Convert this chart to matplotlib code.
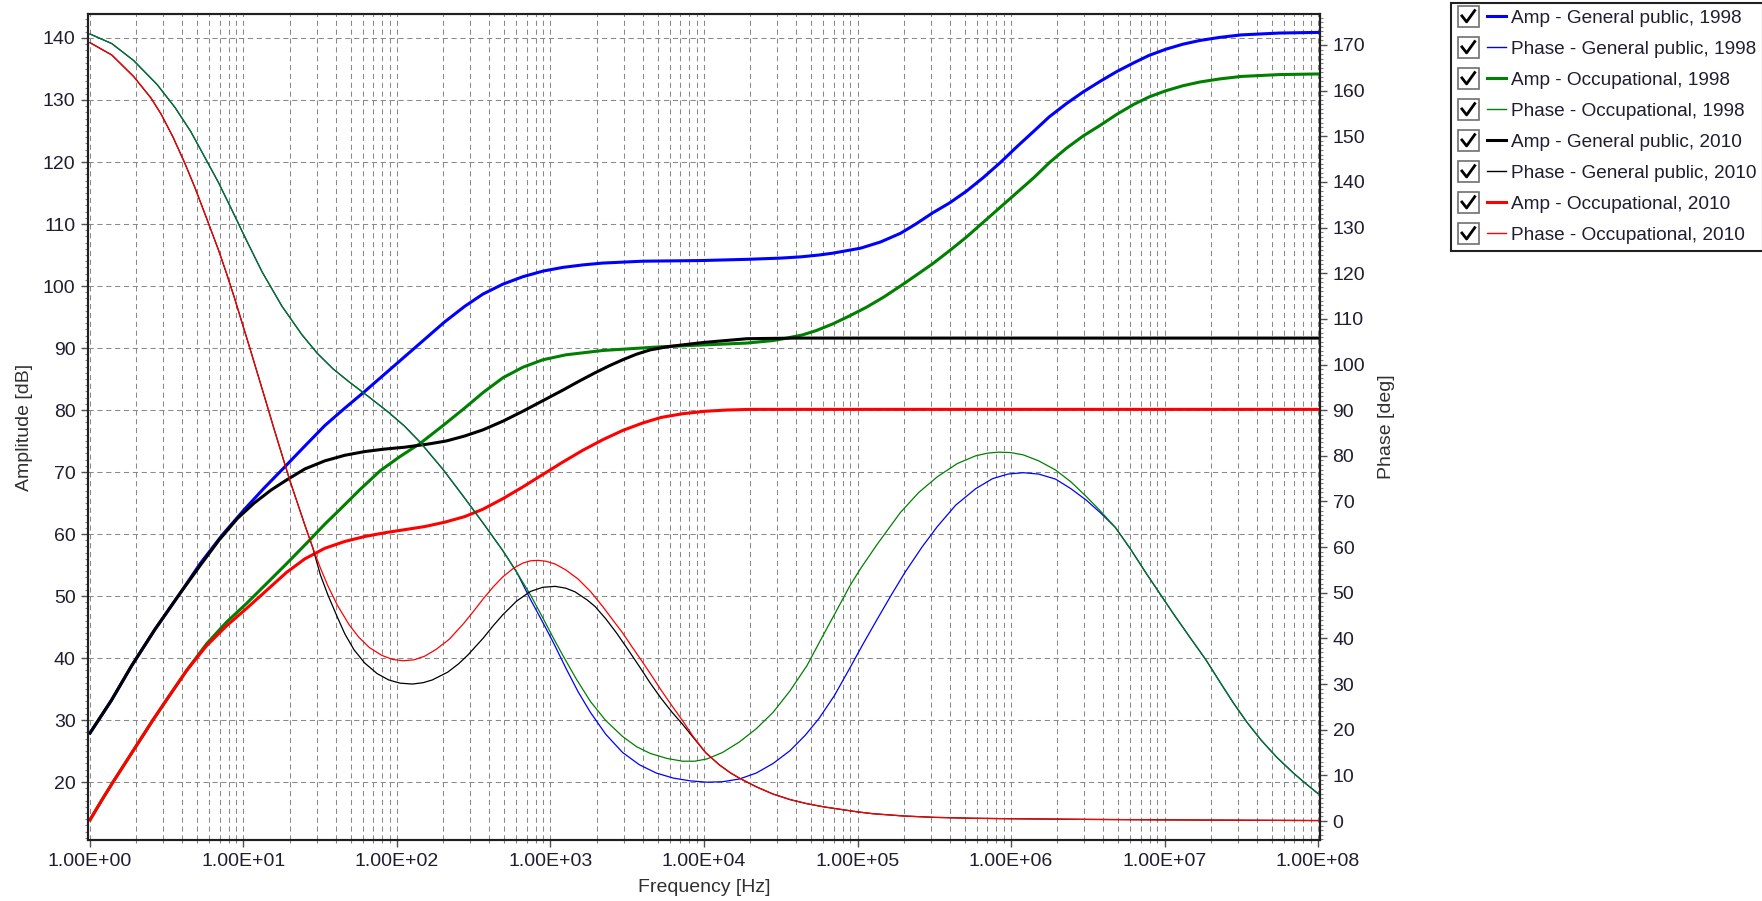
import numpy as np
import matplotlib
matplotlib.use('Agg')
import matplotlib.pyplot as plt
from matplotlib.legend_handler import HandlerBase
from matplotlib.lines import Line2D
from matplotlib.patches import Rectangle
from matplotlib.ticker import FixedLocator, LogLocator, NullFormatter, MultipleLocator

plt.rcParams['font.family'] = ['Liberation Sans', 'DejaVu Sans']

# ---------------- data (log10 of frequency in Hz, values) ----------------
amp_gp1998_lf = [0, 0.14, 0.27, 0.42, 0.58, 0.72, 0.86, 1.0, 1.13, 1.26, 1.4, 1.53, 1.66, 1.79, 1.92,
                 2.05, 2.18, 2.31, 2.44, 2.56, 2.69, 2.82, 2.95, 3.08, 3.21, 3.34, 3.6, 3.97, 4.28,
                 4.5, 4.63, 4.75, 4.84, 4.93, 5.02, 5.15, 5.28, 5.38, 5.49, 5.6, 5.71, 5.82, 5.93,
                 6.04, 6.15, 6.25, 6.36, 6.47, 6.58, 6.69, 6.80, 6.9, 7.01, 7.12, 7.23, 7.36, 7.5,
                 7.75, 8.0]
amp_gp1998 = [27.9, 33.2, 38.7, 44.5, 50.2, 55.3, 59.8, 63.8, 67.3, 70.6, 74.2, 77.5, 80.3, 83.0, 85.8,
              88.6, 91.4, 94.2, 96.7, 98.7, 100.3, 101.5, 102.4, 103.0, 103.4, 103.7, 104.0, 104.1, 104.3,
              104.5, 104.7, 105.0, 105.3, 105.7, 106.1, 107.1, 108.5, 110.0, 111.8, 113.4, 115.3, 117.5, 119.9,
              122.5, 125.0, 127.3, 129.4, 131.3, 133.0, 134.6, 136.0, 137.2, 138.2, 139.0, 139.6, 140.1, 140.5,
              140.8, 140.9]

phase_gp1998_lf = [0, 0.142, 0.284, 0.438, 0.554, 0.657, 0.735, 0.838, 0.915, 1.018, 1.121, 1.25, 1.379,
                   1.482, 1.585, 1.688, 1.817, 1.946, 2.049, 2.15, 2.30, 2.435, 2.56, 2.69, 2.78, 2.87,
                   2.95, 3.02, 3.1, 3.18, 3.26, 3.36, 3.47, 3.58, 3.69, 3.8, 3.91, 4.02, 4.12, 4.23,
                   4.34, 4.45, 4.56, 4.66, 4.75, 4.85, 4.95, 5.04, 5.13, 5.22, 5.31, 5.42, 5.52, 5.64,
                   5.77, 5.88, 5.98, 6.08, 6.18, 6.29, 6.39, 6.49, 6.58, 6.68, 6.78, 6.88, 6.97, 7.06,
                   7.16, 7.27, 7.36, 7.45, 7.54, 7.63, 7.73, 7.84, 7.92, 8.0]
phase_gp1998 = [172.4, 170.3, 166.6, 161.3, 156.3, 151.0, 146.2, 139.8, 134.5, 127.3, 120.3, 112.8, 106.6,
                102.4, 99.0, 96.2, 92.9, 89.5, 86.5, 83.0, 77.0, 71.0, 65.3, 59.2, 54.5, 48.5,
                43.5, 39.0, 33.5, 28.3, 23.8, 19.0, 15.0, 12.3, 10.5, 9.4, 8.8, 8.5, 8.6, 9.2,
                10.5, 12.6, 15.4, 18.8, 22.5, 27.5, 33.5, 39.0, 44.3, 49.5, 54.5, 60.0, 64.5, 69.2,
                72.8, 75.0, 76.0, 76.3, 76.0, 74.9, 72.8, 70.3, 67.6, 64.3, 59.5, 54.3, 49.8, 45.3,
                40.5, 35.3, 30.5, 25.8, 21.5, 17.7, 14.0, 10.5, 8.2, 6.0]

amp_occ1998_lf = [0, 0.075, 0.15, 0.28, 0.41, 0.5, 0.63, 0.76, 0.89, 1.02, 1.15, 1.28, 1.43, 1.53, 1.63,
                  1.76, 1.89, 2.02, 2.15, 2.3, 2.44, 2.56, 2.69, 2.82, 2.95, 3.1, 3.34, 3.72, 4.0,
                  4.28, 4.45, 4.54, 4.64, 4.73, 4.84, 4.95, 5.06, 5.17, 5.28, 5.38, 5.49, 5.6, 5.71,
                  5.82, 5.93, 6.04, 6.15, 6.25, 6.36, 6.47, 6.58, 6.69, 6.80, 6.9, 7.01, 7.12, 7.23,
                  7.36, 7.5, 7.75, 8.0]
amp_occ1998 = [13.9, 17.0, 20.0, 25.0, 30.0, 33.3, 38.0, 42.3, 45.8, 48.8, 52.0, 55.2, 59.0, 61.6, 64.0,
               67.2, 70.2, 72.5, 74.6, 77.5, 80.3, 82.8, 85.2, 86.9, 88.1, 88.9, 89.6, 90.2, 90.5,
               90.8, 91.2, 91.6, 92.1, 92.8, 93.9, 95.2, 96.6, 98.2, 100.0, 101.7, 103.6, 105.7, 107.9,
               110.3, 112.7, 115.1, 117.5, 119.9, 122.2, 124.2, 125.9, 127.7, 129.3, 130.5, 131.5, 132.3, 132.9,
               133.4, 133.8, 134.1, 134.2]

phase_occ1998_lf = [0, 0.142, 0.284, 0.438, 0.554, 0.657, 0.735, 0.838, 0.915, 1.018, 1.121, 1.25, 1.379,
                    1.482, 1.585, 1.688, 1.817, 1.946, 2.049, 2.15, 2.30, 2.435, 2.56, 2.69, 2.78, 2.87,
                    2.95, 3.02, 3.08, 3.17, 3.26, 3.36, 3.47, 3.56, 3.65, 3.76, 3.86, 3.94, 4.02, 4.12,
                    4.23, 4.34, 4.45, 4.56, 4.67, 4.77, 4.87, 4.95, 5.02, 5.13, 5.28, 5.40, 5.52, 5.65,
                    5.77, 5.85, 5.92, 6.0, 6.08, 6.18, 6.29, 6.39, 6.49, 6.58, 6.68, 6.78, 6.88, 6.97,
                    7.06, 7.16, 7.27, 7.36, 7.45, 7.54, 7.63, 7.73, 7.84, 7.92, 8.0]
phase_occ1998 = [172.4, 170.3, 166.6, 161.3, 156.3, 151.0, 146.2, 139.8, 134.5, 127.3, 120.3, 112.8, 106.6,
                 102.4, 99.0, 96.2, 92.9, 89.5, 86.5, 83.0, 77.0, 71.0, 65.3, 59.2, 54.5, 49.5,
                 44.5, 40.0, 36.3, 31.0, 26.2, 22.0, 18.5, 16.3, 14.8, 13.7, 13.1, 13.1, 13.6, 15.0,
                 17.3, 20.2, 23.8, 28.5, 34.0, 40.3, 46.5, 51.5, 55.3, 60.7, 67.6, 72.0, 75.4, 78.3,
                 80.0, 80.6, 80.8, 80.7, 80.2, 78.9, 76.9, 74.3, 71.1, 68.0, 64.3, 59.5, 54.3, 49.8,
                 45.3, 40.5, 35.3, 30.5, 25.8, 21.5, 17.7, 14.0, 10.5, 8.2, 6.0]

amp_gp2010_lf = [0, 0.14, 0.27, 0.42, 0.58, 0.72, 0.84, 0.96, 1.07, 1.18, 1.28, 1.4, 1.53, 1.66, 1.79,
                 1.92, 2.05, 2.2, 2.32, 2.44, 2.56, 2.69, 2.82, 2.95, 3.08, 3.19, 3.29, 3.38, 3.47,
                 3.56, 3.65, 3.76, 3.86, 4.0, 4.14, 4.28, 4.6, 8.0]
amp_gp2010 = [27.9, 33.2, 38.7, 44.5, 50.2, 55.0, 59.0, 62.5, 65.0, 67.1, 68.7, 70.5, 71.8, 72.7, 73.3,
              73.7, 74.0, 74.5, 75.0, 75.8, 76.8, 78.2, 79.8, 81.5, 83.2, 84.7, 86.0, 87.1, 88.1,
              89.0, 89.7, 90.2, 90.5, 90.9, 91.2, 91.5, 91.6, 91.6]

phase_gp2010_lf = [0, 0.142, 0.284, 0.399, 0.464, 0.541, 0.619, 0.683, 0.76, 0.838, 0.889, 0.941, 0.992,
                   1.044, 1.095, 1.147, 1.198, 1.25, 1.30, 1.353, 1.40, 1.45, 1.50, 1.55, 1.611, 1.66,
                   1.72, 1.79, 1.87, 1.946, 2.02, 2.10, 2.17, 2.23, 2.33, 2.40, 2.46, 2.56, 2.63, 2.69,
                   2.78, 2.87, 2.95, 3.03, 3.10, 3.16, 3.24, 3.29, 3.36, 3.43, 3.50, 3.58, 3.65, 3.72,
                   3.79, 3.86, 3.93, 4.01, 4.1, 4.17, 4.23, 4.34, 4.45, 4.56, 4.67, 4.78, 4.9, 5.0,
                   5.1, 5.3, 5.5, 5.75, 6.0, 6.5, 7.0, 8.0]
phase_gp2010 = [170.5, 167.8, 163.1, 158.3, 154.8, 149.8, 144.0, 138.8, 132.0, 125.0, 120.0, 114.6, 109.0,
                103.3, 97.6, 91.8, 86.0, 80.3, 74.8, 69.5, 64.8, 60.0, 54.0, 49.5, 44.7, 41.0,
                37.5, 34.6, 32.3, 30.9, 30.2, 30.0, 30.3, 30.9, 32.6, 34.4, 36.3, 40.0, 42.9, 45.2,
                48.2, 50.3, 51.2, 51.4, 51.0, 50.2, 48.4, 47.0, 44.3, 41.2, 37.8, 33.8, 30.2, 26.9,
                23.9, 21.2, 18.3, 15.0, 12.3, 10.6, 9.4, 7.5, 5.9, 4.7, 3.8, 3.1, 2.5, 2.0,
                1.6, 1.1, 0.8, 0.6, 0.5, 0.35, 0.25, 0.1]

amp_occ2010_lf = [0, 0.075, 0.15, 0.28, 0.41, 0.5, 0.63, 0.76, 0.89, 1.02, 1.15, 1.28, 1.4, 1.53, 1.66,
                  1.79, 1.92, 2.05, 2.18, 2.31, 2.44, 2.56, 2.69, 2.82, 2.95, 3.08, 3.21, 3.34, 3.47,
                  3.6, 3.72, 3.86, 4.01, 4.15, 4.3, 8.0]
amp_occ2010 = [13.9, 17.0, 20.0, 25.0, 30.0, 33.3, 38.0, 42.0, 45.2, 48.0, 50.9, 53.8, 56.0, 57.7, 58.8,
               59.6, 60.2, 60.7, 61.2, 61.9, 62.8, 64.0, 65.7, 67.6, 69.6, 71.6, 73.5, 75.2, 76.7,
               77.9, 78.8, 79.4, 79.8, 80.0, 80.1, 80.1]

phase_occ2010_lf = [0, 0.142, 0.284, 0.399, 0.464, 0.541, 0.619, 0.683, 0.76, 0.838, 0.889, 0.941, 0.992,
                    1.044, 1.095, 1.147, 1.198, 1.25, 1.30, 1.353, 1.40, 1.45, 1.50, 1.55, 1.611, 1.688,
                    1.75, 1.82, 1.90, 1.97, 2.04, 2.11, 2.18, 2.255, 2.34, 2.435, 2.5, 2.56, 2.63, 2.69,
                    2.76, 2.82, 2.87, 2.92, 2.97, 3.03, 3.1, 3.18, 3.26, 3.34, 3.40, 3.47, 3.53, 3.6,
                    3.66, 3.72, 3.79, 3.86, 3.93, 4.01, 4.1, 4.17, 4.23, 4.34, 4.45, 4.56, 4.67, 4.78,
                    4.9, 5.0, 5.1, 5.3, 5.5, 5.75, 6.0, 6.5, 7.0, 8.0]
phase_occ2010 = [170.5, 167.8, 163.1, 158.3, 154.8, 149.8, 144.0, 138.8, 132.0, 125.0, 120.0, 114.6, 109.0,
                 103.3, 97.6, 91.8, 86.0, 80.3, 74.8, 69.5, 64.8, 60.0, 55.5, 51.5, 47.3, 43.0,
                 40.3, 38.0, 36.3, 35.4, 35.1, 35.3, 36.1, 37.6, 39.8, 43.3, 46.0, 48.6, 51.4, 53.5,
                 55.4, 56.5, 57.0, 57.1, 56.9, 56.3, 55.0, 53.0, 50.3, 47.0, 44.3, 41.2, 38.2, 34.8,
                 31.8, 28.7, 25.3, 22.0, 18.5, 15.0, 12.3, 10.6, 9.4, 7.5, 5.9, 4.7, 3.8, 3.1,
                 2.5, 2.0, 1.6, 1.1, 0.8, 0.6, 0.5, 0.35, 0.25, 0.1]

series_labels = ["Amp - General public, 1998", "Phase - General public, 1998",
                 "Amp - Occupational, 1998", "Phase - Occupational, 1998",
                 "Amp - General public, 2010", "Phase - General public, 2010",
                 "Amp - Occupational, 2010", "Phase - Occupational, 2010"]
series_colors = ["#0000FF", "#0000FF", "#008000", "#008000", "#000000", "#000000", "#FF0000", "#FF0000"]

amp_ticks = list(range(20, 141, 10))
phase_ticks = list(range(0, 171, 10))
freq_ticks = [1e0, 1e1, 1e2, 1e3, 1e4, 1e5, 1e6, 1e7, 1e8]

# ---------------- figure ----------------
W, H = 1762, 901
fig = plt.figure(figsize=(W / 100, H / 100), dpi=100)
L, R, T, B = 88, 1320, 14, 840
ax = fig.add_axes([L / W, 1 - B / H, (R - L) / W, (B - T) / H])
ax2 = ax.twinx()

FS = 14
txtc = '#1e1e30'

amp_series = [(amp_gp1998_lf, amp_gp1998), (amp_occ1998_lf, amp_occ1998),
              (amp_gp2010_lf, amp_gp2010), (amp_occ2010_lf, amp_occ2010)]
phase_series = [(phase_gp1998_lf, phase_gp1998), (phase_occ1998_lf, phase_occ1998),
                (phase_gp2010_lf, phase_gp2010), (phase_occ2010_lf, phase_occ2010)]

handles = []
for i in range(4):
    lf, v = amp_series[i]
    la, = ax.plot(10 ** np.array(lf), v, color=series_colors[2 * i], lw=2.2,
                  label=series_labels[2 * i], zorder=3, solid_joinstyle='round')
    lf, v = phase_series[i]
    lp, = ax2.plot(10 ** np.array(lf), v, color=series_colors[2 * i + 1], lw=0.9,
                   label=series_labels[2 * i + 1], zorder=3, solid_joinstyle='round')
    handles += [la, lp]

ax.set_xscale('log')
ax.set_xlim(10 ** -0.013, 10 ** 8.013)
ax.set_ylim(10.65, 143.87)
ax2.set_ylim(-4.16, 176.78)

ax.xaxis.set_major_locator(FixedLocator(freq_ticks))
ax.xaxis.set_minor_locator(LogLocator(base=10, subs=np.arange(2, 10), numticks=50))
ax.xaxis.set_minor_formatter(NullFormatter())
ax.set_xticklabels([f"{v:.2E}" for v in freq_ticks])
ax.yaxis.set_major_locator(FixedLocator(amp_ticks))
ax.yaxis.set_minor_locator(MultipleLocator(1))
ax2.yaxis.set_major_locator(FixedLocator(phase_ticks))
ax2.yaxis.set_minor_locator(MultipleLocator(1))

gridstyle = dict(color='#8a8a8a', lw=0.75, linestyle=(0, (5, 3.5)))
ax.grid(True, which='both', axis='x', **gridstyle)
ax.grid(True, which='major', axis='y', **gridstyle)
ax.set_axisbelow(True)

for a in (ax, ax2):
    a.tick_params(which='major', direction='out', length=5, width=1, color='#505050',
                  labelsize=FS, labelcolor=txtc, pad=4)
    a.tick_params(which='minor', direction='out', length=2.5, width=0.8, color='#808080')
    for s in a.spines.values():
        s.set_linewidth(1.5)
        s.set_color('#202020')

ax.set_xlabel("Frequency [Hz]", fontsize=FS, color='#303030', labelpad=7)
ax.set_ylabel("Amplitude [dB]", fontsize=FS, color='#303030', labelpad=7)
ax2.set_ylabel("Phase [deg]", fontsize=FS, color='#303030', labelpad=9)


class CheckHandler(HandlerBase):
    def create_artists(self, legend, orig_handle, xdescent, ydescent, width, height, fontsize, trans):
        s = fontsize * 1.12
        cy = height / 2 - ydescent
        x0 = -xdescent
        box = Rectangle((x0, cy - s / 2), s, s, facecolor='white', edgecolor='#707070',
                        lw=1.2, transform=trans)
        check = Line2D([x0 + 0.2 * s, x0 + 0.42 * s, x0 + 0.8 * s],
                       [cy + 0.02 * s, cy - 0.26 * s, cy + 0.27 * s],
                       color='black', lw=2.0, transform=trans)
        line = Line2D([x0 + s + 0.4 * fontsize, x0 + width], [cy, cy],
                      color=orig_handle.get_color(),
                      lw=2.2 if orig_handle.get_linewidth() > 1.5 else 1.0, transform=trans)
        return [box, check, line]


LFS = 13.7
leg = fig.legend(handles=handles, labels=[h.get_label() for h in handles],
                 handler_map={Line2D: CheckHandler()},
                 loc='upper left', bbox_to_anchor=(1451 / W, 1 - 3 / H), borderaxespad=0,
                 fontsize=LFS, handlelength=2.55, handletextpad=0.25, labelspacing=0.72,
                 borderpad=0.35, fancybox=False, framealpha=1, frameon=True)
leg.get_frame().set_edgecolor('#202020')
leg.get_frame().set_linewidth(1.5)
for t in leg.get_texts():
    t.set_color(txtc)

fig.savefig('out.png', dpi=100)
